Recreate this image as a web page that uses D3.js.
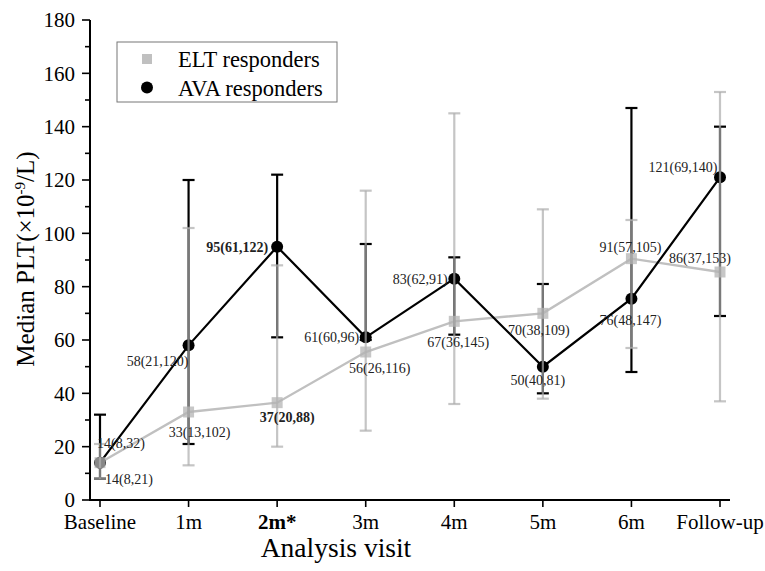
<!DOCTYPE html>
<html lang="en">
<head>
<meta charset="utf-8">
<title>Median PLT by visit</title>
<script src="https://cdn.jsdelivr.net/npm/d3@7/dist/d3.min.js"></script>
<style>
  body { margin: 0; background: #fff; }
  svg text { font-family: "Liberation Serif", "Times New Roman", "DejaVu Serif", serif; }
</style>
</head>
<body>
<svg id="chart" width="765" height="571"></svg>
<script>

// visits on the x axis
var visits = ["Baseline", "1m", "2m*", "3m", "4m", "5m", "6m", "Follow-up"];

// ELT responders: median (as plotted), lower and upper quartile
var eltMedian = [14, 33, 36.5, 55.5, 67, 70, 90.5, 85.5];
var eltLow    = [8, 13, 20, 26, 36, 38, 57, 37];
var eltHigh   = [21, 102, 88, 116, 145, 109, 105, 153];

// AVA responders
var avaMedian = [14, 58, 95, 61, 83, 50, 75.5, 121];
var avaLow    = [8, 21, 61, 60, 62, 40, 48, 69];
var avaHigh   = [32, 120, 122, 96, 91, 81, 147, 140];

var yTicks = [0, 20, 40, 60, 80, 100, 120, 140, 160, 180];

// where each value label sits relative to its point (dx, dy)
var avaLabelOff = [[21,-20],[-31,16],[-40,0],[-34,0],[-34,0],[-5,13],[-1,21],[-37,-10]];
var eltLabelOff = [[29,16],[11,20],[10,14],[14,16],[4,21],[-4,17],[-1,-12],[-20,-14]];

var serif = "'Liberation Serif', 'Times New Roman', 'DejaVu Serif', serif";

var svg = d3.select("#chart");

var x = d3.scalePoint().domain(visits).range([100, 720]);
var y = d3.scaleLinear().domain([0, 180]).range([500, 20]);

var eltColor = "#c0c0c0";

// ---- axes ----
var yAxis = svg.append("g")
    .attr("transform", "translate(90,0)");

yAxis.append("line")
    .attr("x1", 0).attr("x2", 0)
    .attr("y1", y(0) + 1).attr("y2", y(180))
    .attr("stroke", "#000").attr("stroke-width", 2);

// minor ticks every 10
yAxis.selectAll("line.minor")
    .data(d3.range(10, 180, 20))
    .enter().append("line")
    .attr("class", "minor")
    .attr("x1", -5).attr("x2", 0)
    .attr("y1", function(d){ return y(d); })
    .attr("y2", function(d){ return y(d); })
    .attr("stroke", "#000").attr("stroke-width", 1.6);

yAxis.selectAll("line.major")
    .data(yTicks)
    .enter().append("line")
    .attr("class", "major")
    .attr("x1", -8).attr("x2", 0)
    .attr("y1", function(d){ return y(d); })
    .attr("y2", function(d){ return y(d); })
    .attr("stroke", "#000").attr("stroke-width", 1.6);

yAxis.selectAll("text")
    .data(yTicks)
    .enter().append("text")
    .attr("x", -15)
    .attr("y", function(d){ return y(d); })
    .attr("dy", "0.35em")
    .attr("text-anchor", "end")
    .attr("font-family", serif)
    .style("font-size", "21px")
    .text(function(d){ return d; });

var xAxis = svg.append("g");

xAxis.append("line")
    .attr("x1", 89).attr("x2", 730)
    .attr("y1", y(0)).attr("y2", y(0))
    .attr("stroke", "#000").attr("stroke-width", 2);

xAxis.selectAll("line.tick")
    .data(visits)
    .enter().append("line")
    .attr("x1", function(d){ return x(d); })
    .attr("x2", function(d){ return x(d); })
    .attr("y1", y(0)).attr("y2", y(0) + 7)
    .attr("stroke", "#000").attr("stroke-width", 1.6);

xAxis.selectAll("text")
    .data(visits)
    .enter().append("text")
    .attr("x", function(d){ return x(d); })
    .attr("y", y(0) + 29)
    .attr("text-anchor", "middle")
    .attr("font-family", serif)
    .style("font-size", "21px")
    .style("font-weight", function(d){ return d == "2m*" ? "bold" : "normal"; })
    .text(function(d){ return d; });

// axis titles
svg.append("text")
    .attr("x", 336).attr("y", 557)
    .attr("text-anchor", "middle")
    .attr("font-family", serif)
    .style("font-size", "27.5px")
    .text("Analysis visit");

var yTitle = svg.append("text")
    .attr("transform", "translate(34,259) rotate(-90)")
    .attr("text-anchor", "middle")
    .attr("font-family", serif)
    .style("font-size", "25px");
yTitle.append("tspan").text("Median PLT(\u00d710");
yTitle.append("tspan").attr("dy", -9).style("font-size", "15px").text("-9");
yTitle.append("tspan").attr("dy", 9).text("/L)");

// ---- series ----
function rows(med, lo, hi) {
  return med.map(function(m, i) {
    return { i: i, visit: visits[i], med: m, lo: lo[i], hi: hi[i] };
  });
}
var elt = rows(eltMedian, eltLow, eltHigh);
var ava = rows(avaMedian, avaLow, avaHigh);

var line = d3.line()
    .x(function(d){ return x(d.visit); })
    .y(function(d){ return y(d.med); });

svg.append("path").datum(elt)
    .attr("d", line)
    .attr("fill", "none")
    .attr("stroke", eltColor).attr("stroke-width", 2.4);

svg.append("path").datum(ava)
    .attr("d", line)
    .attr("fill", "none")
    .attr("stroke", "#000").attr("stroke-width", 2.2);

function errorBars(data, color, width, opacity) {
  var g = svg.append("g")
      .attr("stroke", color)
      .attr("stroke-width", width)
      .attr("stroke-opacity", opacity);
  var bars = g.selectAll("g").data(data).enter().append("g");
  bars.append("line")
      .attr("x1", function(d){ return x(d.visit); })
      .attr("x2", function(d){ return x(d.visit); })
      .attr("y1", function(d){ return y(d.lo); })
      .attr("y2", function(d){ return y(d.hi); });
  bars.append("line")
      .attr("x1", function(d){ return x(d.visit) - 6; })
      .attr("x2", function(d){ return x(d.visit) + 6; })
      .attr("y1", function(d){ return y(d.hi); })
      .attr("y2", function(d){ return y(d.hi); });
  bars.append("line")
      .attr("x1", function(d){ return x(d.visit) - 6; })
      .attr("x2", function(d){ return x(d.visit) + 6; })
      .attr("y1", function(d){ return y(d.lo); })
      .attr("y2", function(d){ return y(d.lo); });
}

errorBars(ava, "#000", 2.2, 1);

svg.append("g").selectAll("circle")
    .data(ava)
    .enter().append("circle")
    .attr("cx", function(d){ return x(d.visit); })
    .attr("cy", function(d){ return y(d.med); })
    .attr("r", 6)
    .attr("fill", "#000");

errorBars(elt, "#adadad", 2.2, 0.7);

svg.append("g").selectAll("rect")
    .data(elt)
    .enter().append("rect")
    .attr("x", function(d){ return x(d.visit) - 5.5; })
    .attr("y", function(d){ return y(d.med) - 5.5; })
    .attr("width", 11).attr("height", 11)
    .attr("fill", "#b4b4b4")
    .attr("fill-opacity", 0.75);

// value labels
function labels(data, offs) {
  svg.append("g").selectAll("text")
      .data(data)
      .enter().append("text")
      .attr("x", function(d){ return x(d.visit) + offs[d.i][0]; })
      .attr("y", function(d){ return y(d.med) + offs[d.i][1]; })
      .attr("dy", "0.35em")
      .attr("text-anchor", "middle")
      .attr("font-family", serif)
      .style("font-size", "14px")
      .style("font-weight", function(d){ return d.i == 2 ? "bold" : "normal"; })
      .style("fill", "#222")
      .text(function(d){ return Math.round(d.med) + "(" + d.lo + "," + d.hi + ")"; });
}
labels(ava, avaLabelOff);
labels(elt, eltLabelOff);

// ---- legend ----
var legend = svg.append("g").attr("transform", "translate(117,42)");
legend.append("rect")
    .attr("width", 220).attr("height", 60)
    .attr("fill", "#fff")
    .attr("stroke", "#777").attr("stroke-width", 1);
legend.append("rect")
    .attr("x", 25).attr("y", 12)
    .attr("width", 10).attr("height", 10)
    .attr("fill", "#c0c0c0");
legend.append("circle")
    .attr("cx", 30).attr("cy", 45.5).attr("r", 6)
    .attr("fill", "#000");
legend.append("text")
    .attr("x", 61).attr("y", 17).attr("dy", "0.35em")
    .attr("font-family", serif)
    .style("font-size", "22.5px")
    .text("ELT responders");
legend.append("text")
    .attr("x", 61).attr("y", 46).attr("dy", "0.35em")
    .attr("font-family", serif)
    .style("font-size", "22.5px")
    .text("AVA responders");

</script>
</body>
</html>
